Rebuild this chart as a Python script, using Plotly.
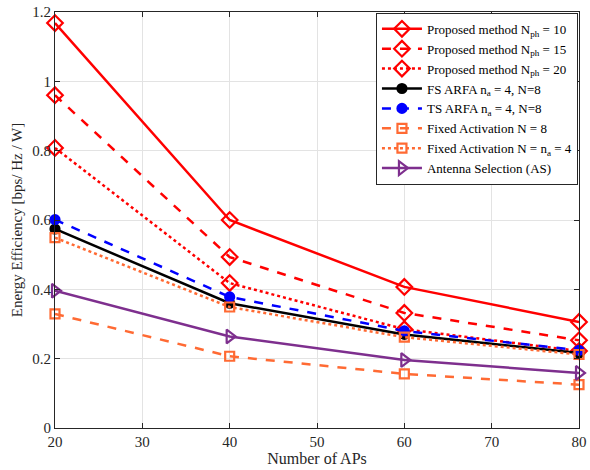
import plotly.graph_objects as go

aps = [20, 40, 60, 80]
prop_10 = [1.168, 0.600, 0.407, 0.306]
prop_15 = [0.960, 0.493, 0.332, 0.253]
prop_20 = [0.808, 0.418, 0.285, 0.222]
fs_arfa = [0.574, 0.360, 0.270, 0.216]
ts_arfa = [0.601, 0.378, 0.280, 0.224]
fixed_8 = [0.329, 0.207, 0.156, 0.125]
fixed_4 = [0.549, 0.349, 0.262, 0.212]
ant_sel = [0.396, 0.264, 0.196, 0.159]

names = [
    "Proposed method N<sub>ph</sub> = 10",
    "Proposed method N<sub>ph</sub> = 15",
    "Proposed method N<sub>ph</sub> = 20",
    "FS ARFA n<sub>a</sub> = 4, N=8",
    "TS ARFA n<sub>a</sub> = 4, N=8",
    "Fixed Activation N = 8",
    "Fixed Activation N = n<sub>a</sub> = 4",
    "Antenna Selection (AS)",
]

RED = "#ff0000"
ORANGE = "#ff6a33"
PURPLE = "#7e2f8e"
series = [
    (prop_10, RED, "solid", "diamond-open", 12),
    (prop_15, RED, "dash", "diamond-open", 12),
    (prop_20, RED, "dot", "diamond-open", 12),
    (fs_arfa, "#000000", "solid", "circle", 9),
    (ts_arfa, "#0000ff", "dash", "circle", 9),
    (fixed_8, ORANGE, "dash", "square-open", 9),
    (fixed_4, ORANGE, "dot", "square-open", 9),
    (ant_sel, PURPLE, "solid", "triangle-right-open", 12),
]

fig = go.Figure()
for (vals, col, dash, sym, sz), nm in zip(series, names):
    fig.add_trace(go.Scatter(
        x=aps, y=vals, name=nm, mode="lines+markers",
        line=dict(color=col, width=2.5, dash=dash),
        marker=dict(symbol=sym, size=sz, color=col, line=dict(color=col, width=2.2)),
        cliponaxis=False,
    ))

font = "Liberation Serif"
fig.update_layout(
    width=590, height=470,
    margin=dict(l=55, r=11, t=12, b=42),
    plot_bgcolor="white", paper_bgcolor="white",
    font=dict(family=font, size=15, color="#262626"),
    showlegend=True,
    legend=dict(
        x=0.998, y=0.998, xanchor="right", yanchor="top",
        bgcolor="white", bordercolor="#262626", borderwidth=1,
        font=dict(family=font, size=13, color="#000000"),
        tracegroupgap=0, itemwidth=40,
    ),
    xaxis=dict(
        range=[20, 80], tickvals=[20, 30, 40, 50, 60, 70, 80],
        title=dict(text="Number of APs", standoff=2, font=dict(size=16)),
        showgrid=True, gridcolor="#e3e3e3", zeroline=False,
        showline=True, linecolor="#262626", linewidth=1, mirror="ticks",
        ticks="inside", ticklen=5, tickcolor="#262626",
        ticklabeloverflow="allow", automargin=False,
    ),
    yaxis=dict(
        range=[0, 1.2], tickvals=[0, 0.2, 0.4, 0.6, 0.8, 1.0, 1.2],
        ticktext=["0", "0.2", "0.4", "0.6", "0.8", "1", "1.2"],
        title=dict(text="Energy Efficiency [bps/ Hz / W]", standoff=6, font=dict(size=15)),
        showgrid=True, gridcolor="#e3e3e3", zeroline=False,
        showline=True, linecolor="#262626", linewidth=1, mirror="ticks",
        ticks="inside", ticklen=5, tickcolor="#262626",
        ticklabeloverflow="allow", automargin=False,
    ),
)

fig.write_html(
    "out.html",
    config={"displayModeBar": False},
    post_script="document.body.style.margin='0';document.documentElement.style.overflow='hidden';",
)
